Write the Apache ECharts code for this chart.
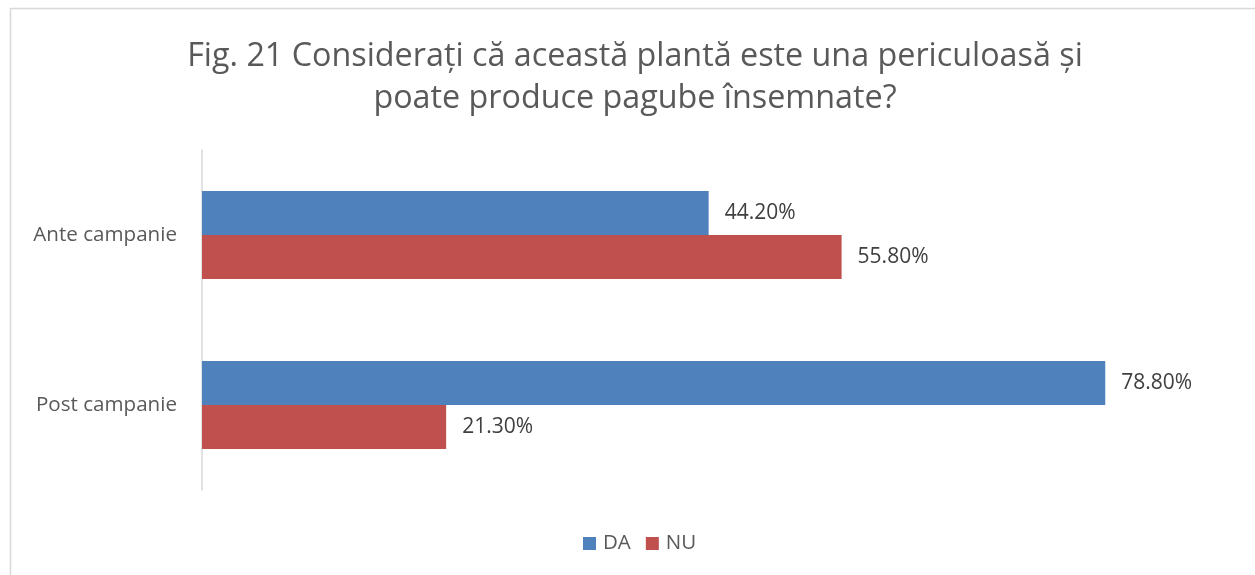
<!DOCTYPE html>
<html>
<head>
<meta charset="utf-8">
<script src="https://cdn.jsdelivr.net/npm/echarts@6/dist/echarts.min.js"></script>
<style>
html,body{margin:0;padding:0;background:#fff;}
#c{width:1255px;height:575px;}
</style>
</head>
<body>
<div id="c"></div>
<script>
const categories = ['Ante campanie', 'Post campanie'];
const seriesNames = ['DA', 'NU'];
const daValues = [44.2, 78.8];
const nuValues = [55.8, 21.3];
const titleText = 'Fig. 21 Considerați că această plantă este una periculoasă și\npoate produce pagube însemnate?';

const FONT = 'Open Sans';
const chart = echarts.init(document.getElementById('c'), null, {renderer: 'canvas'});
chart.setOption({
  animation: false,
  backgroundColor: '#fff',
  textStyle: {fontFamily: FONT},
  title: {
    text: titleText,
    left: 630,
    textAlign: 'center',
    top: 31,
    textStyle: {fontFamily: FONT, fontSize: 32.3, fontWeight: 'normal', color: '#595959', lineHeight: 42}
  },
  graphic: [{
    type: 'rect', left: 8, top: 6,
    shape: {width: 1400, height: 700},
    style: {fill: 'none', stroke: '#d9d9d9', lineWidth: 1.5},
    silent: true
  }],
  legend: {
    data: seriesNames,
    bottom: 16,
    left: 578,
    itemWidth: 13,
    itemHeight: 13,
    itemGap: 15,
    icon: 'rect',
    textStyle: {fontFamily: FONT, fontSize: 20.5, color: '#595959', padding: [0, 0, 0, 2]}
  },
  grid: {left: 202, top: 150, height: 340, right: 136, containLabel: false},
  xAxis: {
    type: 'value', min: 0, max: 80,
    axisLabel: {show: false}, axisLine: {show: false}, axisTick: {show: false}, splitLine: {show: false}
  },
  yAxis: {
    type: 'category', inverse: true, data: categories,
    axisLine: {show: true, lineStyle: {color: '#d9d9d9', width: 1.5}},
    axisTick: {show: false},
    axisLabel: {fontFamily: FONT, fontSize: 20.6, color: '#595959', margin: 25}
  },
  series: [
    {name: 'DA', type: 'bar', data: daValues, barWidth: 44, barGap: '0%',
     itemStyle: {color: '#4F81BD'},
     label: {show: true, position: 'right', distance: 16, fontFamily: FONT, fontSize: 21, color: '#404040',
       formatter: p => p.value.toFixed(2) + '%'}},
    {name: 'NU', type: 'bar', data: nuValues, barWidth: 44, barGap: '0%',
     itemStyle: {color: '#C0504D'},
     label: {show: true, position: 'right', distance: 16, fontFamily: FONT, fontSize: 21, color: '#404040',
       formatter: p => p.value.toFixed(2) + '%'}}
  ]
});
</script>
</body>
</html>
